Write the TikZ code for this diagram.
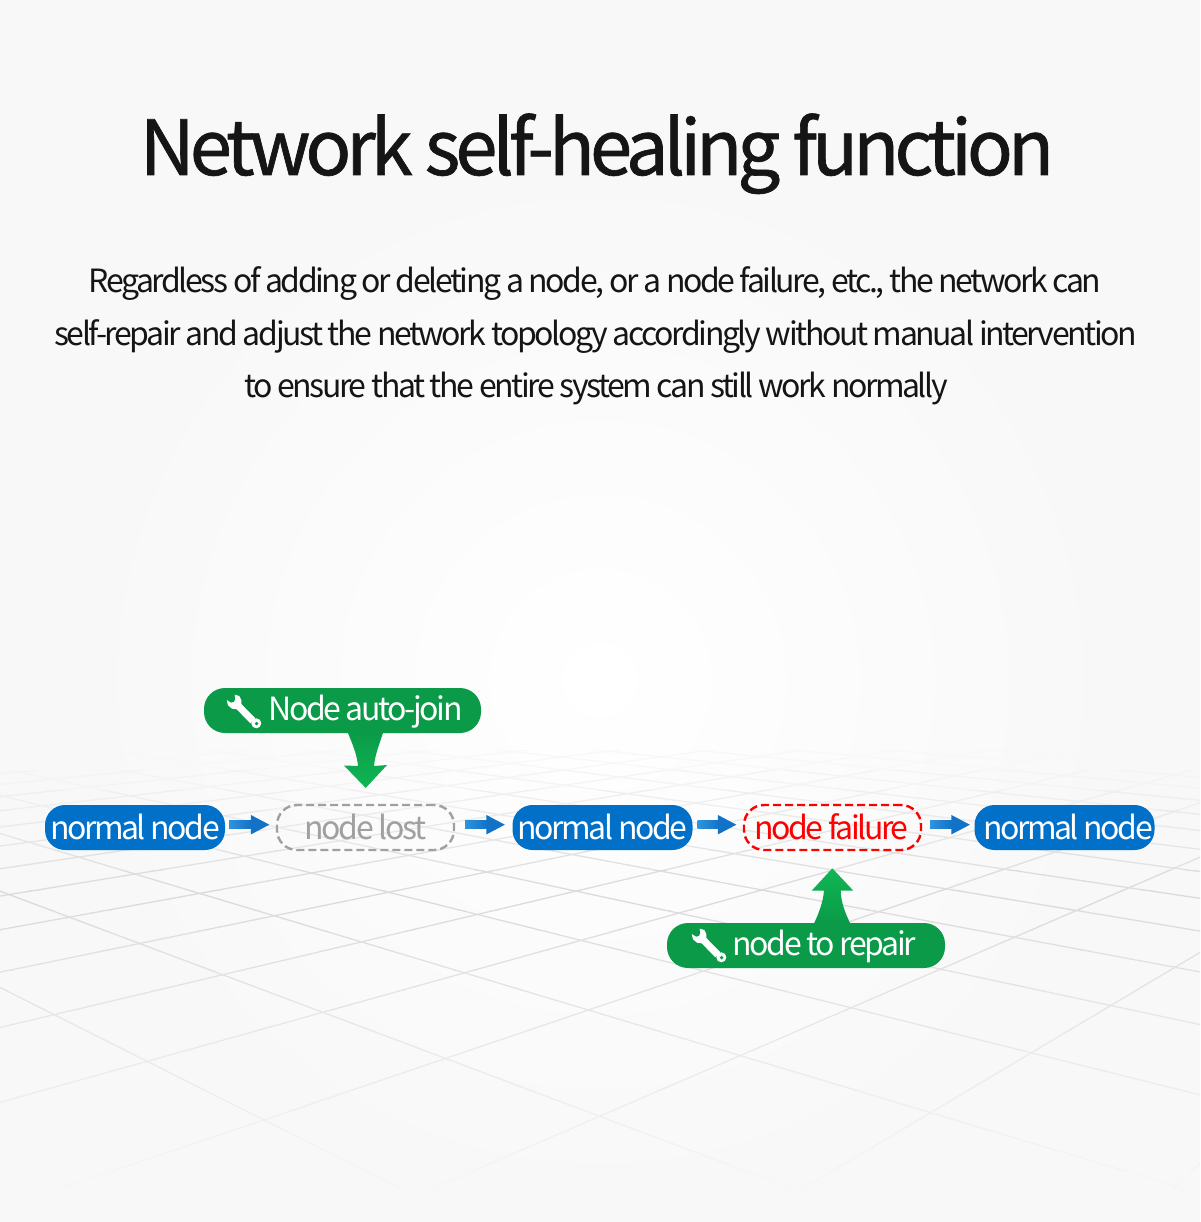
\documentclass[tikz,border=0pt]{standalone}
\usepackage{fontspec}
\usetikzlibrary{calc,arrows.meta}
\setmainfont{Noto Sans CJK SC}
\newfontfamily\titlefont[LetterSpace=-6.6,FakeBold=0.9]{Noto Sans CJK SC}
\newfontfamily\bodyfont[LetterSpace=-7.6]{Noto Sans CJK SC}
\newfontfamily\pillfont[LetterSpace=-7.6]{Noto Sans CJK SC}
\definecolor{bgc}{HTML}{F8F8F8}
\definecolor{pillblue}{HTML}{0070C9}
\definecolor{flowblue}{HTML}{1272C6}
\definecolor{flowlight}{HTML}{2F93DE}
\definecolor{pillgreen}{HTML}{0A9A48}
\definecolor{tipgreen}{HTML}{10B654}
\definecolor{lostgray}{HTML}{A0A0A0}
\definecolor{txt}{HTML}{151515}
\tikzset{
  pillbase/.style={minimum height=45pt,inner sep=0pt,rounded corners=20pt,
    text height=27pt,text depth=4pt,font=\pillfont\fontsize{32}{32}\selectfont},
  bluepill/.style={pillbase,fill=pillblue,text=white,minimum width=180pt},
  lostpill/.style={pillbase,draw=lostgray,line width=2.4pt,dash pattern=on 8pt off 4pt,text=lostgray,minimum width=177pt},
  failpill/.style={pillbase,draw=red,line width=2.4pt,dash pattern=on 8pt off 4pt,text=red,minimum width=177pt},
  greenpill/.style={pillbase,fill=pillgreen,text=white,rounded corners=21pt,minimum height=45pt,text depth=7pt,text height=27pt},
  flow/.style={draw=flowblue,line width=8.5pt,-{Triangle[length=19pt,width=18pt]}},
  wrench/.pic={
    \fill[white,line join=round] (7.7,2.7) -- (12.3,4) -- (14.3,8) -- (14.3,12) -- (28.3,26.3)
      -- (23.3,31.3) -- (9.7,17.3) -- (5,16.7) -- (1,13.3) -- (-0.3,8)
      -- (4,10.7) -- (7,10) -- (8.3,7.3) -- cycle;
    \fill[white] (29.3,31.3) circle (5);
    \fill[pillgreen] (29.6,31.6) circle (1.9);
  },
}
\newcommand{\bluearrow}[4]{%
  \draw[flow,shorten <=#3pt,shorten >=#4pt] ([yshift=2.8pt]#1.east) -- ([yshift=2.8pt]#2.west);
  \shade[left color=flowlight,right color=flowblue]
    ([xshift=#3pt,yshift=7.05pt]#1.east) rectangle ([xshift=#3pt+22pt,yshift=-1.45pt]#1.east);
}
\begin{document}
\begin{tikzpicture}[x=1pt,y=-1pt]
\useasboundingbox (0,0) rectangle (1200,1222);
\fill[bgc] (0,0) rectangle (1200,1222);
\begin{scope}
  \clip (0,0) rectangle (1200,1222);
  \shade[inner color=white,outer color=bgc] (600,680) circle (520);
  % perspective floor grid, faded band by band
  \foreach \yb in {750,770,...,1190}{
    \pgfmathsetmacro{\p}{\yb<880 ? max(0,(\yb-750)/130*12) : max(0,12*(1190-\yb)/310)}
    \begin{scope}
      \clip (0,\yb) rectangle (1200,\yb+20);
      \foreach \i in {-3,...,17}
        \draw[black!\p!bgc,line width=1.3pt] (-762,605) -- (-762+1.6*290+1.6*265*\i+1.6*762,1237);
      \foreach \j in {-14,...,6}
        \draw[black!\p!bgc,line width=1.3pt] (1784,605) -- (1784+1.6*116+1.6*251*\j-1.6*1784,1237);
    \end{scope}
  }
\end{scope}

\node[anchor=base,text=txt,inner sep=0pt,font=\titlefont\fontsize{76}{76}\selectfont] (title) at (597,175) {Network self-healing function};
\node[anchor=base,text=txt,inner sep=0pt,font=\bodyfont\fontsize{32}{32}\selectfont] (l1) at (595,292) {Regardless of adding or deleting a node, or a node failure, etc., the network can};
\node[anchor=base,text=txt,inner sep=0pt,font=\bodyfont\fontsize{32}{32}\selectfont] (l2) at (595.5,345) {self-repair and adjust the network topology accordingly without manual intervention};
\node[anchor=base,text=txt,inner sep=0pt,font=\bodyfont\fontsize{32}{32}\selectfont] (l3) at (596,397) {to ensure that the entire system can still work normally};

% green arrows (behind the pills)
\shade[top color=pillgreen,bottom color=tipgreen]
  (346.7,730) .. controls (353,745) and (357,755) .. (358,766) -- (344,765.5) -- (365.7,788)
  -- (387,765) -- (374,766) .. controls (375,755) and (379,745) .. (384,730) -- cycle;
\shade[top color=tipgreen,bottom color=pillgreen]
  (832.3,868.3) -- (811.7,890.7) -- (824,890.7) .. controls (823,902) and (819,913) .. (813.3,925)
  -- (851,925) .. controls (845,913) and (841,902) .. (840.7,890.7) -- (853.3,890.7) -- cycle;

\node[bluepill] (n1) at (135,827.5) {normal node};
\node[lostpill] (lost) at (365.5,827.5) {node lost};
\node[bluepill] (n2) at (602.5,827.5) {normal node};
\node[failpill] (fail) at (832.5,827.5) {\hspace*{-2pt}node failure};
\node[bluepill] (n3) at (1064.5,827.5) {\hspace*{7pt}normal node};
\node[greenpill,minimum width=277pt] (join) at (342.5,710.5) {\hspace*{46pt}Node auto-join};
\node[greenpill,minimum width=278pt] (repair) at (806,945.5) {\hspace*{37pt}node to repair};
\pic at (227,692) {wrench};
\pic at (692,926) {wrench};

\bluearrow{n1}{lost}{4}{6}
\bluearrow{lost}{n2}{10}{7}
\bluearrow{n2}{fail}{5}{6}
\bluearrow{fail}{n3}{8}{4}
\end{tikzpicture}
\end{document}
